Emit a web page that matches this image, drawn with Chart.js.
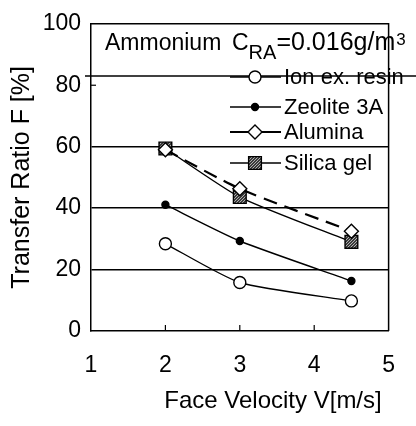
<!DOCTYPE html>
<html><head><meta charset="utf-8">
<script src="https://cdn.jsdelivr.net/npm/chart.js@4/dist/chart.umd.min.js"></script>
<style>html,body{margin:0;padding:0;background:#fff;overflow:hidden}#wrap{width:416px;height:426px}</style>
</head><body><div id="wrap"><canvas id="c" width="416" height="426"></canvas></div>
<script>
// ---- data ----
const velocity   = [2, 3, 4.5];
const ionExResin = [28.4, 15.8, 9.8];
const zeolite3A  = [41.1, 29.3, 16.3];
const alumina    = [59.0, 46.3, 32.5];
const silicaGel  = [59.4, 43.6, 29.0];
const seriesNames = ['Ion ex. resin', 'Zeolite 3A', 'Alumina', 'Silica gel'];
const xTickValues = [1, 2, 3, 4, 5];
const yTickValues = [0, 20, 40, 60, 80, 100];
const gridValues  = [20, 40, 60];
const boxLineValue = 83;
const titleParts = ['Ammonium', 'C', 'RA', '=0.016g/m', '3'];
const xTitle = 'Face Velocity V[m/s]';
const yTitle = 'Transfer Ratio F [%]';

const FONT = '"Liberation Sans", Arial, Helvetica, sans-serif';

// hatched grey fill for Silica gel
function makePattern(){
  const c = document.createElement('canvas'); c.width = 3; c.height = 3;
  const g = c.getContext('2d');
  g.fillStyle = '#3a3a3a'; g.fillRect(0,0,3,3);
  g.fillStyle = '#b0b0b0'; g.fillRect(0,0,1,1); g.fillRect(2,1,1,1); g.fillRect(1,2,1,1);
  return g.createPattern(c, 'repeat');
}
const silicaFill = makePattern();

const pts = (vals) => velocity.map((v, i) => ({x: v, y: vals[i]}));

const styles = [
  {style:'circle', r:6, bg:'#fff', dash:[], w:1.4},
  {style:'circle', r:3.5, bg:'#000', dash:[], w:1.4},
  {style:'rectRot', r:7, bg:'#fff', dash:[14,8], w:2.2},
  {style:'rect', r:9, bg:silicaFill, dash:[], w:1.4}
];
const seriesData = [ionExResin, zeolite3A, alumina, silicaGel];

const datasets = seriesData.map((vals, i) => ({
  label: seriesNames[i],
  data: pts(vals),
  borderColor: '#000',
  borderWidth: styles[i].w,
  borderDash: styles[i].dash,
  tension: 0.2,
  pointStyle: styles[i].style,
  pointRadius: styles[i].r,
  pointHoverRadius: styles[i].r,
  pointBackgroundColor: styles[i].bg,
  pointBorderColor: '#000',
  pointBorderWidth: 1.4,
  fill: false
}));

function drawMarker(ctx, st, x, y){
  ctx.save();
  ctx.fillStyle = st.bg; ctx.strokeStyle = '#000'; ctx.lineWidth = 1.4; ctx.setLineDash([]);
  ctx.beginPath();
  if (st.style === 'circle') ctx.arc(x, y, st.r, 0, Math.PI*2);
  else if (st.style === 'rectRot') { ctx.moveTo(x - st.r, y); ctx.lineTo(x, y - st.r); ctx.lineTo(x + st.r, y); ctx.lineTo(x, y + st.r); ctx.closePath(); }
  else { const s = st.r * Math.SQRT1_2; ctx.rect(x - s, y - s, 2*s, 2*s); }
  ctx.fill(); ctx.stroke();
  ctx.restore();
}

const deco = {
  id: 'deco',
  afterDatasetsDraw(chart){
    const {ctx, chartArea: a, scales: {x, y}} = chart;
    ctx.save();
    ctx.strokeStyle = '#000'; ctx.lineWidth = 1.5; ctx.setLineDash([]);
    // top & right frame
    ctx.beginPath(); ctx.moveTo(a.left, a.top); ctx.lineTo(a.right, a.top); ctx.lineTo(a.right, a.bottom); ctx.stroke();
    // inner ticks on x axis
    ctx.lineWidth = 1.2;
    xTickValues.slice(1, -1).forEach(v => {
      const px = x.getPixelForValue(v);
      ctx.beginPath(); ctx.moveTo(px, a.bottom); ctx.lineTo(px, a.bottom - 6); ctx.stroke();
    });
    // inner tick at 80 on y axis
    const p80 = y.getPixelForValue(80);
    ctx.beginPath(); ctx.moveTo(a.left, p80); ctx.lineTo(a.left + 5, p80); ctx.stroke();
    // line under the title box
    ctx.lineWidth = 1.5;
    const pb = y.getPixelForValue(boxLineValue);
    ctx.beginPath(); ctx.moveTo(a.left - 6, pb); ctx.lineTo(416, pb); ctx.stroke();

    // title
    ctx.fillStyle = '#000'; ctx.textBaseline = 'alphabetic'; ctx.textAlign = 'left';
    ctx.font = `23px ${FONT}`;
    ctx.fillText(titleParts[0], 105, 50);
    let tx = 232;
    ctx.fillText(titleParts[1], tx, 50); tx += ctx.measureText(titleParts[1]).width;
    ctx.font = `20px ${FONT}`;
    ctx.fillText(titleParts[2], tx, 59); tx += ctx.measureText(titleParts[2]).width;
    ctx.font = `25px ${FONT}`;
    ctx.fillText(titleParts[3], tx, 50); tx += ctx.measureText(titleParts[3]).width;
    ctx.font = `17px ${FONT}`;
    ctx.fillText(titleParts[4], tx + 1, 45);

    // legend
    const rows = [77, 107, 132, 163];
    ctx.font = `22px ${FONT}`; ctx.textBaseline = 'middle';
    rows.forEach((ry, i) => {
      ctx.lineWidth = i === 2 ? 2.2 : 1.4; ctx.setLineDash([]);
      ctx.beginPath(); ctx.moveTo(230, ry); ctx.lineTo(281, ry); ctx.stroke();
      drawMarker(ctx, styles[i], 255, ry);
      ctx.fillStyle = '#000';
      ctx.fillText(seriesNames[i], 284, ry + 1);
    });

    // x axis title
    ctx.font = `24px ${FONT}`; ctx.textAlign = 'center'; ctx.textBaseline = 'middle';
    ctx.fillText(xTitle, 273, 401);
    ctx.restore();
  }
};

new Chart(document.getElementById('c'), {
  type: 'line',
  data: { datasets },
  plugins: [deco],
  options: {
    responsive: false,
    animation: false,
    events: [],
    layout: { padding: { top: 14, right: 8, left: 0, bottom: 0 } },
    plugins: { legend: { display: false }, tooltip: { enabled: false }, title: { display: false } },
    scales: {
      x: {
        type: 'linear', min: 1, max: 5,
        afterFit: s => { s.height = 95; },
        afterBuildTicks: s => { s.ticks = xTickValues.map(v => ({value: v})); },
        grid: { display: false, drawTicks: false },
        border: { display: true, color: '#000', width: 1.5 },
        ticks: { color: '#000', padding: 21, font: { family: FONT, size: 23 } }
      },
      y: {
        type: 'linear', min: 0, max: 100,
        afterFit: s => { s.width = 91; },
        afterBuildTicks: s => { s.ticks = yTickValues.map(v => ({value: v})); },
        grid: {
          drawTicks: false,
          color: c => (c.tick && gridValues.includes(c.tick.value)) ? '#000' : 'rgba(0,0,0,0)',
          lineWidth: 1.4
        },
        border: { display: true, color: '#000', width: 1.5 },
        ticks: { color: '#000', padding: 10, font: { family: FONT, size: 23 } },
        title: { display: true, text: yTitle, color: '#000', font: { family: FONT, size: 25 }, padding: { top: 7, bottom: 0 } }
      }
    }
  }
});
</script></body></html>
